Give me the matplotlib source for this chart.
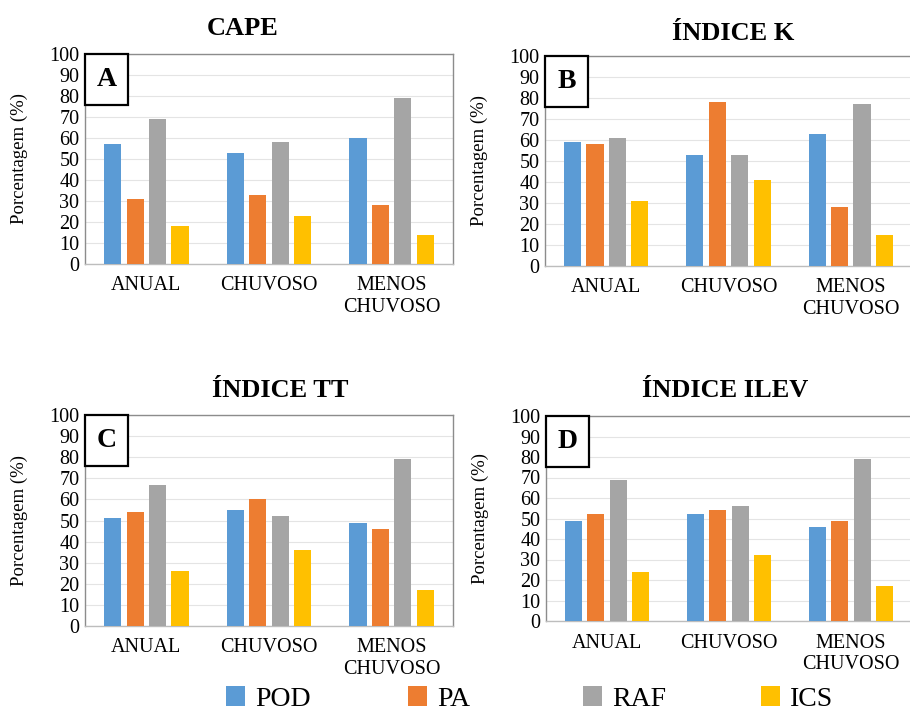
import matplotlib
matplotlib.use("Agg")
import matplotlib.pyplot as plt
from matplotlib.patches import Rectangle, Patch
import numpy as np

plt.rcParams['font.family'] = ['Liberation Serif', 'DejaVu Serif']

categories = ["ANUAL", "CHUVOSO", "MENOS\nCHUVOSO"]
series = ["POD", "PA", "RAF", "ICS"]
colors = ["#5B9BD5", "#ED7D31", "#A5A5A5", "#FFC000"]

titles = ["CAPE", "ÍNDICE K", "ÍNDICE TT", "ÍNDICE ILEV"]
panel_letters = ["A", "B", "C", "D"]

cape_pod = [57, 53, 60]
cape_pa = [31, 33, 28]
cape_raf = [69, 58, 79]
cape_ics = [18, 23, 14]

k_pod = [59, 53, 63]
k_pa = [58, 78, 28]
k_raf = [61, 53, 77]
k_ics = [31, 41, 15]

tt_pod = [51, 55, 49]
tt_pa = [54, 60, 46]
tt_raf = [67, 52, 79]
tt_ics = [26, 36, 17]

ilev_pod = [49, 52, 46]
ilev_pa = [52, 54, 49]
ilev_raf = [69, 56, 79]
ilev_ics = [24, 32, 17]

panels = [
    [cape_pod, cape_pa, cape_raf, cape_ics],
    [k_pod, k_pa, k_raf, k_ics],
    [tt_pod, tt_pa, tt_raf, tt_ics],
    [ilev_pod, ilev_pa, ilev_raf, ilev_ics],
]

W, H = 910, 714
fig = plt.figure(figsize=(W / 100, H / 100), dpi=100)

# pixel boxes: left, right, top, bottom
boxes = [(85, 453, 54, 264), (545, 912, 56, 266), (85, 453, 415, 626), (546, 912, 416, 621)]
title_pos = [(243, 35), (733, 40), (280, 397), (725, 397)]

for i, (l, r, t, b) in enumerate(boxes):
    ax = fig.add_axes([l / W, 1 - b / H, (r - l) / W, (b - t) / H])
    x = np.arange(len(categories))
    pitch, width = 0.183, 0.14
    for j, vals in enumerate(panels[i]):
        ax.bar(x + (j - 1.5) * pitch, vals, width=width, color=colors[j], zorder=3)
    ax.set_xlim(-0.5, 2.5)
    ax.set_ylim(0, 100)
    ax.set_yticks(np.arange(0, 101, 10))
    ax.set_xticks(x)
    ax.set_xticklabels(categories, fontsize=15, linespacing=1.15)
    ax.tick_params(axis='both', length=0, labelsize=14.5)
    ax.tick_params(axis='y', pad=4)
    ax.tick_params(axis='x', pad=9)
    ax.grid(axis='y', color='#e4e4e4', lw=0.8, zorder=0)
    for s in ax.spines.values():
        s.set_color('#8c8c8c')
        s.set_linewidth(1.0)
    ax.spines['bottom'].set_color('#bdbdbd')
    ax.set_ylabel("Porcentagem (%)", fontsize=13.5)
    ax.yaxis.set_label_coords(-57 / (r - l), 0.5)
    # panel letter box
    bw, bh = 43 / (r - l), 51 / (b - t)
    ax.add_patch(Rectangle((0, 1 - bh), bw, bh, transform=ax.transAxes,
                           fill=True, facecolor='white', edgecolor='black',
                           lw=1.6, clip_on=False, zorder=5))
    ax.text(bw / 2, 1 - bh / 2, panel_letters[i], transform=ax.transAxes,
            ha='center', va='center', fontsize=20, fontweight='bold', zorder=6)
    tx, ty = title_pos[i]
    fig.text(tx / W, 1 - ty / H, titles[i], ha='center', va='baseline',
             fontsize=19, fontweight='bold')

legend_x = [226, 408, 583, 761]
for j, name in enumerate(series):
    fig.legend(handles=[Patch(facecolor=colors[j], edgecolor='none')], labels=[name],
               loc='center left', bbox_to_anchor=(legend_x[j] / W, 1 - 699 / H),
               frameon=False, fontsize=20, handlelength=0.7, handleheight=0.7,
               handletextpad=0.35, borderpad=0, borderaxespad=0)

fig.savefig("out.png", dpi=100, facecolor='white')
